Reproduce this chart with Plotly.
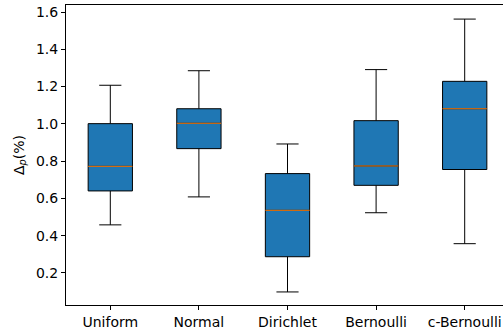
import plotly.graph_objects as go

categories = ["Uniform", "Normal", "Dirichlet", "Bernoulli", "c-Bernoulli"]
lower_whisker = [0.458, 0.608, 0.098, 0.523, 0.357]
q1_values = [0.640, 0.867, 0.287, 0.670, 0.755]
median_values = [0.772, 1.003, 0.536, 0.774, 1.081]
q3_values = [1.001, 1.081, 0.733, 1.017, 1.228]
upper_whisker = [1.207, 1.285, 0.892, 1.291, 1.562]
y_ticks = [0.2, 0.4, 0.6, 0.8, 1.0, 1.2, 1.4, 1.6]

positions = list(range(1, len(categories) + 1))
box_width = 0.5

fig = go.Figure()
fig.add_trace(go.Box(
    x=positions,
    q1=q1_values, median=median_values, q3=q3_values,
    lowerfence=lower_whisker, upperfence=upper_whisker,
    width=box_width, whiskerwidth=0.5,
    fillcolor="#1f77b4",
    line=dict(color="black", width=1),
    boxpoints=False, hoverinfo="skip", showlegend=False,
))

mx, my = [], []
for p, m in zip(positions, median_values):
    mx += [p - box_width / 2, p + box_width / 2, None]
    my += [m, m, None]
fig.add_trace(go.Scatter(x=mx, y=my, mode="lines",
                         line=dict(color="#ff7f0e", width=1),
                         hoverinfo="skip", showlegend=False))

fig.update_layout(
    width=503, height=331,
    margin=dict(l=66, r=0, t=5, b=26),
    paper_bgcolor="white", plot_bgcolor="white",
    font=dict(family="DejaVu Sans", size=14, color="black"),
    xaxis=dict(
        range=[0.5, 0.5 + 437 / 88.6],
        tickvals=positions, ticktext=categories,
        showline=True, linecolor="black", linewidth=1, mirror=True,
        ticks="outside", ticklen=4, tickcolor="black", tickwidth=1,
        showgrid=False, zeroline=False,
    ),
    yaxis=dict(
        range=[0.028, 1.6376],
        tickvals=y_ticks, ticktext=[f"{v:.1f}" for v in y_ticks],
        showline=True, linecolor="black", linewidth=1,
        ticks="outside", ticklen=4, tickcolor="black", tickwidth=1,
        showgrid=False, zeroline=False,
        title=dict(text="Δ<sub><i>p</i></sub>(%)", standoff=8, font=dict(size=14)),
    ),
)

fig.write_html(
    "out.html",
    config={"displayModeBar": False},
    post_script="document.body.style.margin='0';document.body.style.overflow='hidden';",
)
